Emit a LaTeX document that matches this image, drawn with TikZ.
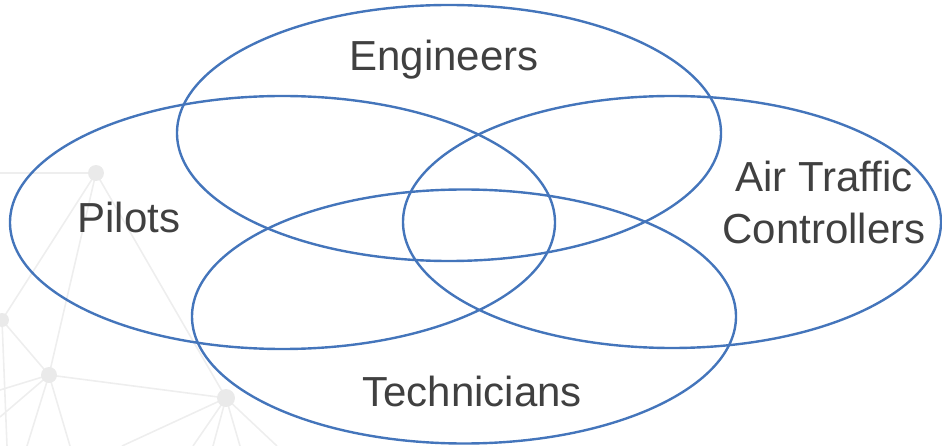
\documentclass[tikz,border=0pt]{standalone}
\usepackage{fontspec}
\setmainfont{Liberation Sans}
\definecolor{vennblue}{RGB}{68,117,187}
\definecolor{labelgray}{RGB}{64,64,64}
\definecolor{netline}{RGB}{238,238,238}
\definecolor{netdot}{RGB}{234,234,234}
\begin{document}
\begin{tikzpicture}[x=1pt,y=-1pt,
  vennset/.style={draw=vennblue,line width=2.4pt},
  setlabel/.style={text=labelgray,font=\fontsize{42}{52}\selectfont,inner sep=0pt,anchor=base,align=center},
  netedge/.style={draw=netline,line width=1.6pt},
  netnode/.style={fill=netdot}]
\useasboundingbox (0,0) rectangle (942,446);
% faint background network
\coordinate (n1) at (96,173);
\coordinate (n2) at (2,320);
\coordinate (n3) at (49,375);
\coordinate (n4) at (226,398);
\coordinate (e1) at (0,173);
\coordinate (e2) at (0,390);
\coordinate (e3) at (0,417);
\coordinate (e4) at (27,446);
\coordinate (e5) at (70,446);
\coordinate (e6) at (7,446);
\coordinate (e7) at (122,446);
\coordinate (e8) at (193,446);
\coordinate (e9) at (213,446);
\coordinate (e10) at (240,446);
\coordinate (e11) at (277,446);
\path[netedge] (n1) -- (e1) (n1) -- (n2) (n1) -- (n3) (n1) -- (n4)
  (n2) -- (n3) (n3) -- (n4) (n3) -- (e2) (n3) -- (e3) (n3) -- (e4) (n3) -- (e5)
  (n2) -- (e6) (n4) -- (e7) (n4) -- (e8) (n4) -- (e9) (n4) -- (e10) (n4) -- (e11);
\path[netnode] (n1) circle (8) (n2) circle (7) (n3) circle (8) (n4) circle (9);
% Venn ellipses
\draw[vennset] (449,133) ellipse (272 and 128);
\draw[vennset] (282.5,222.5) ellipse (272.5 and 126.5);
\draw[vennset] (672,222) ellipse (269 and 126);
\draw[vennset] (464,316.5) ellipse (272 and 127);
% labels
\node[setlabel] (eng) at (444,71) {Engineers};
\node[setlabel] (pil) at (129,233) {Pilots};
\node[setlabel] (atc) at (824,244) {Air Traffic\\Controllers};
\node[setlabel] (tec) at (472,406) {Technicians};
\end{tikzpicture}
\end{document}
